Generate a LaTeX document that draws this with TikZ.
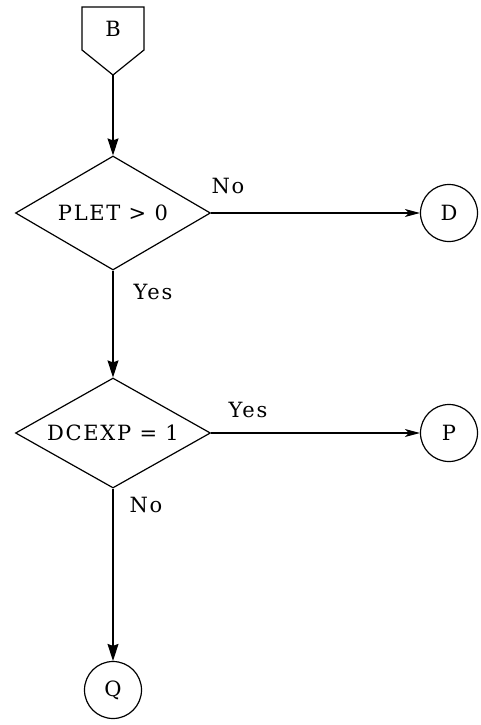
\documentclass[tikz,border=0pt]{standalone}
\usepackage{fontspec}
\setmainfont{DejaVu Serif}[LetterSpace=8]
\usetikzlibrary{shapes.geometric,arrows.meta}
\tikzset{
  line/.style={line width=1.4pt},
  arr/.style={line, -{Stealth[length=17pt,width=11pt,inset=2pt]}},
  harr/.style={line width=1.1pt, -{Stealth[length=15pt,width=8pt,inset=4pt]}},
  dec/.style={shape=diamond, draw, line width=1.2pt, minimum width=195pt, minimum height=114pt, inner sep=0pt},
  conn/.style={circle, draw, line width=1.2pt, minimum size=57pt, inner sep=0pt},
  lbl/.style={inner sep=0pt},
  every node/.style={font=\fontsize{21}{25}\selectfont}
}
\newcommand{\ztext}[1]{\makebox[0pt]{#1}}
\begin{document}
\begin{tikzpicture}[x=1pt,y=-1pt]
\useasboundingbox (0,0) rectangle (481,725);
% off-page connector B
\node[lbl] (B) at (113,29) {B};
\draw[line width=1.2pt] (82,7) -- (144,7) -- (144,50) -- (113,75) -- (82,50) -- cycle;
\coordinate (Bp) at (113,75);
% decisions
\node[dec] (d1) at (113,213) {\ztext{PLET > 0}};
\node[dec, minimum height=110pt] (d2) at (113,433) {\ztext{DCEXP = 1}};
% connectors
\node[conn] (D) at (449,213) {D};
\node[conn] (P) at (449,433) {P};
\node[conn] (Q) at (113,690) {Q};
% flow
\draw[arr] (Bp) -- (d1.north);
\draw[harr] (d1.east) -- (D.west);
\draw[arr] (d1.south) -- (d2.north);
\draw[harr] (d2.east) -- (P.west);
\draw[arr] (d2.south) -- (Q.north);
% labels
\node[lbl] (lno1) at (228,186) {No};
\node[lbl] (lyes1) at (153,292) {Yes};
\node[lbl] (lyes2) at (248,410) {Yes};
\node[lbl] (lno2) at (146,505) {No};
\end{tikzpicture}
\end{document}
